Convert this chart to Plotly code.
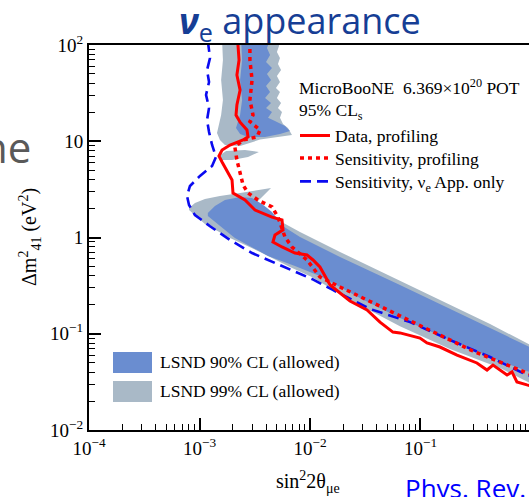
import plotly.graph_objects as go

# ---------------- exclusion contours (sin^2 2theta_mue, dm^2_41 in eV^2) ----------------
data_prof_s2 = [2.23e-3, 2.23e-3, 2.28e-3, 2.18e-3, 2.33e-3, 2.18e-3, 2.14e-3, 2.33e-3, 2.69e-3,
                2.75e-3, 2.48e-3, 1.89e-3, 1.60e-3, 1.50e-3, 1.60e-3, 1.70e-3, 1.97e-3, 2.01e-3,
                2.58e-3, 3.18e-3, 4.53e-3, 5.58e-3, 5.70e-3, 4.82e-3, 4.62e-3, 5.58e-3, 7.31e-3,
                9.40e-3, 1.065e-2, 1.23e-2, 1.52e-2, 1.87e-2, 2.30e-2, 3.28e-2, 4.30e-2, 5.63e-2,
                6.52e-2, 9.89e-2, 0.1145, 0.150, 0.214, 0.324, 0.400, 0.453, 0.607, 0.673, 0.746,
                0.92, 1.2]
data_prof_dm2 = [110, 100, 69.8, 48.8, 34.0, 23.8, 18.7, 15.8, 13.1,
                 11.1, 10.3, 9.14, 8.11, 7.03, 6.09, 5.40, 3.96, 2.90,
                 2.45, 1.93, 1.63, 1.52, 1.20, 1.06, 0.898, 0.797, 0.690,
                 0.658, 0.584, 0.494, 0.321, 0.265, 0.219, 0.177, 0.132, 0.104,
                 0.102, 0.0903, 0.0802, 0.0728, 0.0601, 0.0497, 0.0420, 0.0473, 0.0373, 0.0401, 0.0316,
                 0.0294, 0.0272]

sens_prof_s2 = [2.86e-3, 2.86e-3, 2.99e-3, 2.86e-3, 3.05e-3, 2.86e-3, 3.53e-3, 3.31e-3, 2.48e-3,
                2.09e-3, 2.18e-3, 2.33e-3, 2.48e-3, 2.75e-3, 3.38e-3, 4.53e-3, 5.13e-3, 5.94e-3,
                6.87e-3, 9.40e-3, 1.23e-2, 1.87e-2, 3.72e-2, 7.55e-2, 0.150, 0.298, 0.92, 1.2]
sens_prof_dm2 = [110, 69.8, 43.3, 26.9, 18.7, 16.0, 13.1, 11.1, 10.3,
                 8.71, 6.38, 4.68, 3.51, 2.90, 2.45, 2.08, 1.63, 1.01,
                 0.797, 0.584, 0.389, 0.306, 0.209, 0.139, 0.0947, 0.0662, 0.0391, 0.0355]

sens_app_s2 = [1.19e-3, 1.245e-3, 1.17e-3, 1.22e-3, 1.146e-3, 1.22e-3, 1.17e-3, 1.22e-3, 1.30e-3,
               1.41e-3, 1.30e-3, 1.01e-3, 8.2e-4, 7.71e-4, 8.04e-4, 9.1e-4, 1.245e-3, 1.89e-3,
               2.99e-3, 5.94e-3, 1.04e-2, 1.61e-2, 3.49e-2, 8.04e-2, 0.185, 0.426, 0.92, 1.2]
sens_app_dm2 = [110, 73.3, 54.9, 41.3, 30.3, 22.2, 16.6, 12.5, 9.14,
                6.86, 5.53, 4.36, 3.43, 2.70, 2.18, 1.71, 1.31, 0.942,
                0.690, 0.494, 0.371, 0.285, 0.181, 0.132, 0.0861, 0.0573, 0.0373, 0.0345]

# ---------------- LSND allowed regions ----------------
lsnd99_top_s2 = [1.60e-3, 1.63e-3, 1.57e-3, 1.63e-3, 1.57e-3, 1.50e-3, 1.44e-3, 1.53e-3, 1.70e-3,
                 2.33e-3, 3.53e-3, 6.87e-3, 6.32e-3, 5.70e-3, 5.35e-3, 5.58e-3, 5.13e-3, 5.47e-3,
                 5.02e-3, 5.35e-3, 4.92e-3, 5.35e-3, 5.02e-3, 5.47e-3, 5.13e-3, 5.35e-3, 5.02e-3,
                 5.24e-3, 5.24e-3]
lsnd99_top_dm2 = [113, 69.8, 43.3, 26.9, 18.7, 14.8, 12.2, 10.3, 9.14,
                  8.93, 10.4, 11.6, 13.7, 15.1, 17.5, 20.1, 22.2, 25.0,
                  28.1, 32.5, 35.7, 41.3, 47.7, 54.9, 63.5, 73.3, 84.6,
                  97.6, 113]
lsnd99_lobe_s2 = [1.50e-3, 1.74e-3, 2.58e-3, 3.45e-3, 2.75e-3, 1.97e-3, 1.60e-3]
lsnd99_lobe_dm2 = [7.03, 7.92, 8.11, 7.73, 6.86, 6.38, 6.38]
lsnd99_band_s2 = [8.04e-4, 9.1e-4, 1.12e-3, 1.53e-3, 2.33e-3, 3.38e-3, 4.44e-3, 3.76e-3, 3.31e-3,
                  3.92e-3, 4.82e-3, 5.70e-3, 8.12e-3, 1.87e-2, 5.30e-2, 0.150, 0.426, 1.21,
                  1.21, 0.524, 0.185, 6.52e-2, 2.30e-2, 1.04e-2, 6.59e-3, 3.53e-3, 1.89e-3,
                  1.12e-3, 8.73e-4, 8.04e-4]
lsnd99_band_dm2 = [2.02, 2.28, 2.51, 2.70, 2.90, 3.12, 3.27, 2.70, 2.34,
                   2.02, 1.67, 1.42, 1.14, 0.707, 0.398, 0.224, 0.126, 0.0678,
                   0.0273, 0.0441, 0.0695, 0.120, 0.224, 0.389, 0.494, 0.707, 0.988,
                   1.38, 1.75, 1.93]

lsnd90_top_s2 = [2.38e-3, 2.43e-3, 2.33e-3, 2.43e-3, 2.33e-3, 2.23e-3, 2.14e-3, 2.33e-3, 2.75e-3,
                 3.92e-3, 5.35e-3, 6.59e-3, 5.94e-3, 4.82e-3, 4.17e-3, 4.53e-3, 4.00e-3, 4.44e-3,
                 3.92e-3, 4.35e-3, 4.00e-3, 4.44e-3, 4.08e-3, 4.53e-3, 4.00e-3, 4.35e-3, 4.08e-3,
                 4.35e-3]
lsnd90_top_dm2 = [113, 69.8, 43.3, 26.9, 18.7, 16.2, 13.7, 11.9, 11.1,
                  11.1, 11.9, 12.8, 14.4, 16.2, 17.5, 20.1, 22.2, 25.0,
                  28.1, 32.5, 37.5, 43.3, 50.0, 57.7, 66.6, 78.7, 93.1,
                  113]
lsnd90_band_s2 = [1.19e-3, 1.38e-3, 1.70e-3, 2.33e-3, 2.99e-3, 3.68e-3, 4.53e-3, 5.70e-3, 8.12e-3,
                  1.87e-2, 6.52e-2, 0.185, 0.524, 1.21,
                  1.21, 0.524, 0.185, 6.52e-2, 2.83e-2, 1.23e-2, 7.31e-3, 4.17e-3, 2.09e-3,
                  1.38e-3, 1.19e-3]
lsnd90_band_dm2 = [1.80, 2.13, 2.45, 2.64, 2.57, 2.23, 1.84, 1.31, 1.01,
                   0.627, 0.321, 0.181, 0.102, 0.0646,
                   0.0364, 0.0521, 0.0861, 0.146, 0.235, 0.398, 0.506, 0.643, 0.988,
                   1.45, 1.67]

# ---------------- axis ticks ----------------
x_tickvals = [1e-4, 1e-3, 1e-2, 1e-1, 1]
x_ticktext = ["10<sup>−4</sup>", "10<sup>−3</sup>", "10<sup>−2</sup>", "10<sup>−1</sup>", "1"]
y_tickvals = [1e-2, 1e-1, 1, 10, 100]
y_ticktext = ["10<sup>−2</sup>", "10<sup>−1</sup>", "1", "10", "10<sup>2</sup>"]
x_minor = [k * 10.0 ** e for e in range(-4, 0) for k in range(2, 10)]
y_minor = [k * 10.0 ** e for e in range(-2, 2) for k in range(2, 10)]


def join_parts(*parts):
    out = []
    for i, p in enumerate(parts):
        if i:
            out.append(None)
        out.extend(p)
    return out


SERIF = "Liberation Serif"
RED = "#ff0000"
BLUE = "#0a0af0"
C90 = "#6a8dd0"
C99 = "#a9b9c7"

fig = go.Figure()

fig.add_trace(go.Scatter(
    x=join_parts(lsnd99_top_s2, lsnd99_lobe_s2, lsnd99_band_s2),
    y=join_parts(lsnd99_top_dm2, lsnd99_lobe_dm2, lsnd99_band_dm2),
    mode="lines", fill="toself", fillcolor=C99, line=dict(width=0, color=C99),
    name="LSND 99% CL (allowed)", showlegend=False, hoverinfo="skip"))
fig.add_trace(go.Scatter(
    x=join_parts(lsnd90_top_s2, lsnd90_band_s2),
    y=join_parts(lsnd90_top_dm2, lsnd90_band_dm2),
    mode="lines", fill="toself", fillcolor=C90, line=dict(width=0, color=C90),
    name="LSND 90% CL (allowed)", showlegend=False, hoverinfo="skip"))

fig.add_trace(go.Scatter(x=sens_app_s2, y=sens_app_dm2, mode="lines",
                         line=dict(color=BLUE, width=2.6, dash="11px,6px"),
                         name="Sensitivity, ν<sub>e</sub> App. only", legend="legend3"))
fig.add_trace(go.Scatter(x=sens_prof_s2, y=sens_prof_dm2, mode="lines",
                         line=dict(color=RED, width=3.5, dash="4px,4px"),
                         name="Sensitivity, profiling", legend="legend2"))
fig.add_trace(go.Scatter(x=data_prof_s2, y=data_prof_dm2, mode="lines",
                         line=dict(color=RED, width=3),
                         name="Data, profiling", legend="legend"))


def axis_style(tickvals, ticktext, minor_vals):
    return dict(
        type="log", tickmode="array", tickvals=tickvals, ticktext=ticktext,
        showgrid=False, zeroline=False,
        showline=True, linecolor="black", linewidth=2,
        ticks="inside", ticklen=12, tickwidth=1.5, tickcolor="black",
        minor=dict(ticks="inside", ticklen=6, tickwidth=1.2, tickcolor="black",
                   tickmode="array", tickvals=minor_vals, showgrid=False),
        tickfont=dict(family=SERIF, size=19, color="black"),
    )


fig.update_xaxes(**axis_style(x_tickvals, x_ticktext, x_minor), range=[-4, -0.018], mirror=True)
fig.update_yaxes(**axis_style(y_tickvals, y_ticktext, y_minor), range=[-2, 2], mirror=False)

W, H = 529, 497
L, R, T, B = 89, 0, 45, 67
pw, ph = W - L - R, H - T - B


def px(xp):
    return (xp - L) / pw


def py(yp):
    return (H - B - yp) / ph


annotations = [
    dict(text="<b><i>ν</i></b><sub>e</sub> appearance", x=px(300), y=py(23),
         font=dict(family="Open Sans", size=36, color="#163e95")),
    dict(text="ne", x=px(33), y=py(146), xanchor="right",
         font=dict(family="Open Sans", size=42, color="#595959")),
    dict(text="Δm<sup>2</sup><sub>41</sub> (eV<sup>2</sup>)", x=px(30), y=py(237),
         textangle=-90, font=dict(family=SERIF, size=20, color="black")),
    dict(text="sin<sup>2</sup>2θ<sub>μe</sub>", x=px(308), y=py(482),
         font=dict(family=SERIF, size=20, color="black")),
    dict(text="<u>Phys. Rev. Lett.</u>", x=px(403), y=py(488), xanchor="left",
         font=dict(family="Open Sans", size=26, color="#0000ff")),
    dict(text="MicroBooNE  6.369×10<sup>20</sup> POT", x=px(297), y=py(87), xanchor="left",
         font=dict(family=SERIF, size=17.5, color="black")),
    dict(text="95% CL<sub>s</sub>", x=px(297), y=py(112), xanchor="left",
         font=dict(family=SERIF, size=17.5, color="black")),
    dict(text="LSND 90% CL (allowed)", x=px(158), y=py(362), xanchor="left",
         font=dict(family=SERIF, size=17.5, color="black")),
    dict(text="LSND 99% CL (allowed)", x=px(158), y=py(391), xanchor="left",
         font=dict(family=SERIF, size=17.5, color="black")),
]
for a in annotations:
    a.setdefault("xanchor", "center")
    a.update(xref="paper", yref="paper", yanchor="middle", showarrow=False)

shapes = [
    dict(type="rect", xref="paper", yref="paper", x0=px(113), x1=px(152),
         y0=py(373), y1=py(352), fillcolor=C90, line=dict(width=0)),
    dict(type="rect", xref="paper", yref="paper", x0=px(113), x1=px(152),
         y0=py(402), y1=py(381), fillcolor=C99, line=dict(width=0)),
]


def legend_row(ycenter):
    return dict(x=px(295), y=py(ycenter), xanchor="left", yanchor="middle",
                bgcolor="rgba(0,0,0,0)", borderwidth=0,
                font=dict(family=SERIF, size=17.5, color="black"),
                itemwidth=30)


fig.update_layout(
    width=W, height=H,
    margin=dict(l=L, r=R, t=T, b=B),
    paper_bgcolor="white", plot_bgcolor="white",
    annotations=annotations, shapes=shapes,
    legend=legend_row(135.5), legend2=legend_row(158), legend3=legend_row(181.5),
    showlegend=True,
)

fig.write_html("out.html")
